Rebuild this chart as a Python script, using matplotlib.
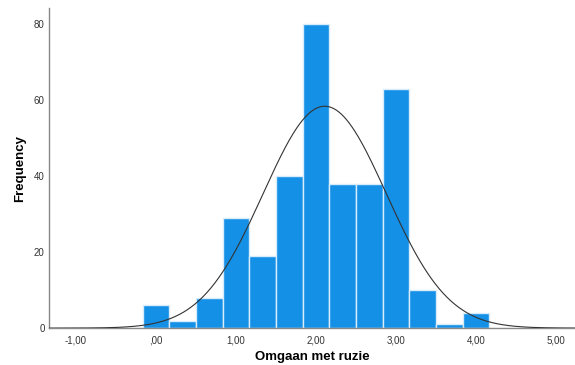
import numpy as np
import matplotlib.pyplot as plt

plt.rcParams['font.family'] = ['Liberation Sans', 'DejaVu Sans']

# Histogram data (bin width 1/3)
bin_edges = [-1/6, 1/6, 0.5, 5/6, 7/6, 1.5, 11/6, 13/6, 2.5, 17/6, 19/6, 3.5, 23/6, 25/6]
counts = [6, 2, 8, 29, 19, 40, 80, 38, 38, 63, 10, 1, 4]
x_ticks = [-1, 0, 1, 2, 3, 4, 5]
x_labels = ["-1,00", ",00", "1,00", "2,00", "3,00", "4,00", "5,00"]
y_ticks = [0, 20, 40, 60, 80]

# normal curve parameters
mean = 2.11
sd = 0.77
n = sum(counts)
width = bin_edges[1] - bin_edges[0]

fig = plt.figure(figsize=(5.75, 3.65), dpi=100)
ax = fig.add_axes([0.085, 0.101, 0.915, 0.877])

lefts = np.array(bin_edges[:-1])
ax.bar(lefts, counts, width=width, align="edge", color="#1490e6",
       edgecolor="#d8ecfb", linewidth=1.0, zorder=2)

xs = np.linspace(-1.34, 5.24, 400)
ys = n * width / (sd * np.sqrt(2 * np.pi)) * np.exp(-0.5 * ((xs - mean) / sd) ** 2)
ax.plot(xs, ys, color="#333333", linewidth=0.8, zorder=3)

ax.set_xlim(-1.34, 5.24)
ax.set_ylim(0, 84.2)
ax.set_xticks(x_ticks)
ax.set_xticklabels(x_labels)
ax.set_yticks(y_ticks)
ax.tick_params(axis="y", length=0, labelsize=7, colors="#333333", pad=3)
ax.tick_params(axis="x", length=0, labelsize=7, colors="#333333", pad=5)
for s in ["top", "right"]:
    ax.spines[s].set_visible(False)
for s in ["left", "bottom"]:
    ax.spines[s].set_color("#888888")
    ax.spines[s].set_linewidth(1.0)

ax.set_xlabel("Omgaan met ruzie", fontsize=9.5, fontweight="bold", va="center")
ax.set_ylabel("Frequency", fontsize=9.5, fontweight="bold", va="center")
ax.xaxis.set_label_coords(0.5, -0.09)
ax.yaxis.set_label_coords(-0.055, 0.5)

fig.savefig("out.png", dpi=100)
